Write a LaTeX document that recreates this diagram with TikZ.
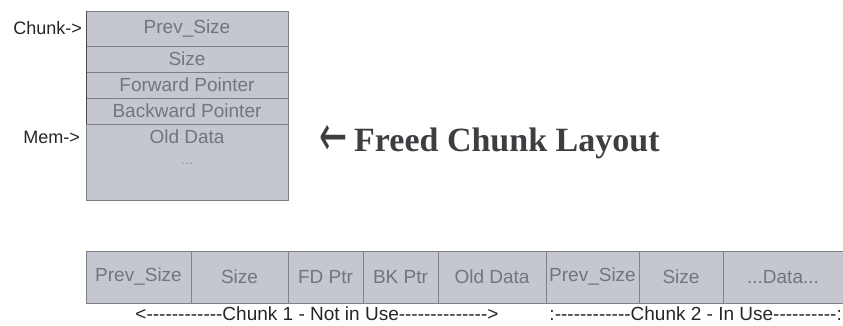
\documentclass[tikz,border=0pt]{standalone}
\usepackage{graphicx}
\usepackage{fontspec}
\setmainfont{Liberation Sans}
\newfontfamily\labelfont{Liberation Sans}
\newfontfamily\titlefont{Liberation Serif}
\newfontfamily\arrowfont{DejaVu Sans}
\definecolor{cellfill}{HTML}{C4C6D0}
\definecolor{cellline}{HTML}{7E7F88}
\definecolor{celltext}{HTML}{73747E}
\definecolor{titlegray}{HTML}{3E3E42}
\begin{document}
\begin{tikzpicture}[x=1pt,y=-1pt,
  cell/.style={draw=cellline,fill=cellfill,line width=0.9pt,inner sep=0pt},
  celltxt/.style={text=celltext,font=\labelfont\fontsize{19}{19}\selectfont,inner sep=0pt,anchor=center},
  sidelabel/.style={text=black!85,font=\labelfont\fontsize{18}{18}\selectfont,inner sep=0pt,anchor=east},
  spanlabel/.style={text=black!85,font=\labelfont\fontsize{19}{19}\selectfont,inner sep=0pt,anchor=center}]
\useasboundingbox (0,0) rectangle (843,326);

% ---- freed chunk, vertical layout ----
\node[cell,minimum width=202pt,minimum height=189pt,anchor=north west] (fbox) at (86,11) {};
\coordinate (r1) at (86,46);  \coordinate (r1e) at (288,46);
\coordinate (r2) at (86,72);  \coordinate (r2e) at (288,72);
\coordinate (r3) at (86,98);  \coordinate (r3e) at (288,98);
\coordinate (r4) at (86,124); \coordinate (r4e) at (288,124);
\draw[cellline,line width=0.9pt] (r1) -- (r1e) (r2) -- (r2e) (r3) -- (r3e) (r4) -- (r4e);
\draw[black!70,line width=1pt] (fbox.north west) -- (fbox.south west |- r4);

\node[celltxt] (tprev) at (187,29) {Prev\_Size};
\node[celltxt] (tsize) at (187,59) {Size};
\node[celltxt] (tfwd)  at (187,85) {Forward Pointer};
\node[celltxt] (tbck)  at (187,111) {Backward Pointer};
\node[celltxt] (told)  at (187,137) {Old Data};
\node[celltxt,font=\labelfont\fontsize{13}{13}\selectfont,text=celltext!80] (tdots) at (187,164) {\dots};

\node[sidelabel] (chunkptr) at (82,28) {Chunk->};
\node[sidelabel] (memptr) at (80,137) {Mem->};

% ---- caption ----
\node[text=titlegray,font=\arrowfont\fontsize{30}{30}\selectfont,inner sep=0pt,anchor=west] (tarrow) at (319,140) {\scalebox{1.12}[1.9]{←}};
\node[text=titlegray,font=\titlefont\bfseries\fontsize{34}{34}\selectfont,inner sep=0pt,anchor=base west] (title) at (354,152) {Freed Chunk Layout};

% ---- two adjacent chunks, horizontal layout ----
\begin{scope}
\clip (0,0) rectangle (843,326);
\node[cell,minimum width=770pt,minimum height=52pt,anchor=north west] (hrow) at (86,251) {};
\end{scope}
\foreach \xx in {191,288,363,438,546,639,723}
  \draw[cellline,line width=0.9pt] (\xx,251) -- (\xx,303);

\node[celltxt] (hprev1) at (138.5,277) {Prev\_Size};
\node[celltxt] (hsize1) at (239.5,277) {Size};
\node[celltxt] (hfd)    at (325.5,277) {FD Ptr};
\node[celltxt] (hbk)    at (400.5,277) {BK Ptr};
\node[celltxt] (hold)   at (492,277) {Old Data};
\node[celltxt] (hprev2) at (592.5,277) {Prev\_Size};
\node[celltxt] (hsize2) at (681,277) {Size};
\node[celltxt] (hdata)  at (783,277) {...Data...};

\node[spanlabel] (span1) at (317,314) {<-{}-{}-{}-{}-{}-{}-{}-{}-{}-{}-{}-Chunk 1 - Not in Use-{}-{}-{}-{}-{}-{}-{}-{}-{}-{}-{}-{}-{}->};
\node[spanlabel,anchor=east] (span2) at (842,314) {:-{}-{}-{}-{}-{}-{}-{}-{}-{}-{}-{}-Chunk 2 - In Use-{}-{}-{}-{}-{}-{}-{}-{}-{}-{}:};
\end{tikzpicture}
\end{document}
